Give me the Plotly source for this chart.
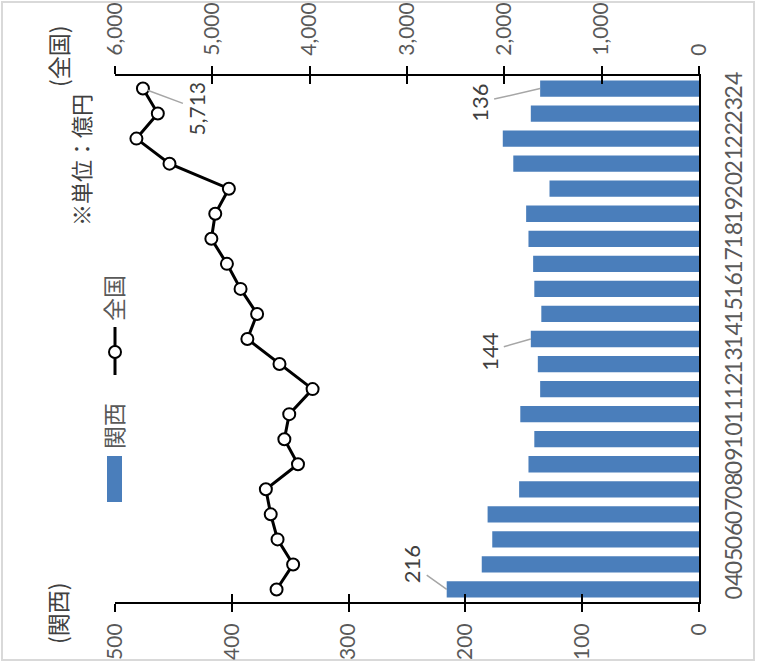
import plotly.graph_objects as go

# ---- data ----
years = ["04", "05", "06", "07", "08", "09", "10", "11", "12", "13", "14",
         "15", "16", "17", "18", "19", "20", "21", "22", "23", "24"]
kansai = [216, 186, 177, 181, 154, 146, 141, 153, 136, 138, 144,
          135, 141, 142, 146, 148, 128, 159, 168, 144, 136]
zenkoku = [4340, 4170, 4330, 4400, 4450, 4120, 4260, 4210, 3970, 4310, 4640,
           4540, 4710, 4850, 5010, 4970, 4830, 5440, 5780, 5560, 5713]
kansai_ticks = [0, 100, 200, 300, 400, 500]
zenkoku_ticks = [0, 1000, 2000, 3000, 4000, 5000, 6000]
kansai_label_idx = [0, 10, 20]
zenkoku_label_idx = [20]

W, H = 759, 665
L, R, T, B = 115, 60, 76, 63
FONT = "Lato, 'Noto Sans CJK JP', sans-serif"
JFONT = "'Noto Sans CJK JP', sans-serif"
GRAY = "#595959"
DARK = "#404040"
BLUE = "#4a7ebb"


def px(x):
    return (x - L) / (W - L - R)


def py(y):
    return (H - B - y) / (H - T - B)


fig = go.Figure()
fig.add_trace(go.Bar(x=kansai, y=years, orientation="h", marker_color=BLUE,
                     marker_line_width=0, name="関西", xaxis="x", yaxis="y"))
fig.add_trace(go.Scatter(x=zenkoku, y=years, mode="lines+markers", name="全国",
                         line=dict(color="black", width=3),
                         marker=dict(size=12, color="white",
                                     line=dict(color="black", width=2)),
                         xaxis="x2", yaxis="y"))
# invisible helpers to draw inner halves of crossing ticks
fig.add_trace(go.Scatter(x=[None], y=[None], xaxis="x3", yaxis="y", showlegend=False))
fig.add_trace(go.Scatter(x=[None], y=[None], xaxis="x4", yaxis="y", showlegend=False))

tickfont = dict(family=FONT, size=21, color=GRAY)
common = dict(showgrid=False, zeroline=False, tickangle=-90, tickfont=tickfont,
              automargin=False)
fig.update_layout(
    width=W, height=H,
    margin=dict(l=L, r=R, t=T, b=B, autoexpand=False),
    paper_bgcolor="white", plot_bgcolor="white",
    showlegend=False, bargap=0.35,
    font=dict(family=FONT),
    xaxis=dict(range=[500, 0], tickvals=kansai_ticks, ticks="outside",
               ticklen=8, tickwidth=2, tickcolor="black", showline=True,
               linecolor="black", linewidth=2, ticklabelstandoff=3,
               side="bottom", **common),
    xaxis2=dict(range=[6000, 0], tickvals=zenkoku_ticks, ticks="outside",
                ticklen=8, tickwidth=2, tickcolor="black", showline=True,
                linecolor="black", linewidth=2, tickformat=",",
                ticklabelstandoff=6, overlaying="x", side="top",
                anchor="y", **common),
    xaxis3=dict(range=[500, 0], tickvals=kansai_ticks, ticks="inside",
                ticklen=8, tickwidth=2, tickcolor="black", showticklabels=False,
                showline=False, showgrid=False, zeroline=False, automargin=False,
                overlaying="x", side="bottom", anchor="y"),
    xaxis4=dict(range=[6000, 0], tickvals=zenkoku_ticks, ticks="inside",
                ticklen=8, tickwidth=2, tickcolor="black", showticklabels=False,
                showline=False, showgrid=False, zeroline=False, automargin=False,
                overlaying="x", side="top", anchor="y"),
    yaxis=dict(type="category", categoryorder="array", categoryarray=years,
               range=[-0.5, len(years) - 0.5], tickmode="array",
               tickvals=years, ticktext=years,
               side="right", showline=True, linecolor="black", linewidth=2,
               ticks="", showgrid=False, zeroline=False, tickangle=-90,
               ticklabelstandoff=13, automargin=False,
               tickfont=dict(family=FONT, size=23, color=GRAY)),
)

annotations = []
label_offsets = {0: (-35, -25), 10: (-42, 12), 20: (-61, 14)}
for i in kansai_label_idx:
    ox, oy = label_offsets[i]
    # category position given by index
    annotations.append(dict(x=kansai[i], y=i, xref="x", yref="y",
                            text=str(kansai[i]), textangle=-90, showarrow=True,
                            arrowhead=0, arrowwidth=1.5, arrowcolor="#a6a6a6",
                            ax=ox, ay=oy, standoff=0,
                            font=dict(family=FONT, size=22, color=DARK)))
for i in zenkoku_label_idx:
    annotations.append(dict(x=zenkoku[i], y=i, xref="x2", yref="y",
                            text=f"{zenkoku[i]:,}", textangle=-90, showarrow=True,
                            arrowhead=0, arrowwidth=1.5, arrowcolor="#a6a6a6",
                            ax=54, ay=20, standoff=5,
                            font=dict(family=FONT, size=21, color=DARK)))


def note(xp, yp, text, size, color):
    return dict(x=px(xp), y=py(yp), xref="paper", yref="paper", text=text,
                xanchor="center", yanchor="middle", textangle=-90,
                showarrow=False, font=dict(family=JFONT, size=size, color=color))


annotations += [
    note(58, 56, "(全国)", 23, DARK),
    note(80, 160, "※単位：億円", 22, DARK),
    note(57, 613, "(関西)", 23, DARK),
    note(113, 426, "関西", 23, GRAY),
    note(113, 298, "全国", 23, GRAY),
]
fig.update_layout(annotations=annotations)

shapes = [
    # legend swatch for 関西
    dict(type="rect", xref="paper", yref="paper", x0=px(107), x1=px(122),
         y0=py(502), y1=py(456), fillcolor=BLUE, line_width=0),
    # legend line for 全国
    dict(type="line", xref="paper", yref="paper", x0=px(115), x1=px(115),
         y0=py(375), y1=py(327), line=dict(color="black", width=3)),
    dict(type="circle", xref="paper", yref="paper", x0=px(109), x1=px(121),
         y0=py(358), y1=py(346), fillcolor="white",
         line=dict(color="black", width=2)),
    # outer frame
    dict(type="rect", xref="paper", yref="paper", x0=px(2), x1=px(754),
         y0=py(660), y1=py(2), line=dict(color="#d9d9d9", width=2), layer="below"),
]
fig.update_layout(shapes=shapes)

fig.write_html("out.html", config={"displayModeBar": False},
               post_script="document.body.style.margin='0';"
                           "document.body.style.overflow='hidden';")
